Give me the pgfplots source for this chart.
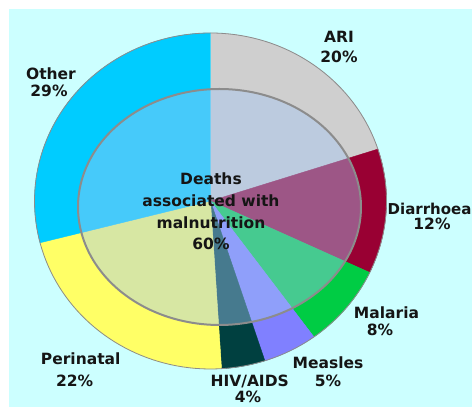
\documentclass[border=0pt]{standalone}
\usepackage{pgfplots}
\pgfplotsset{compat=1.18}
\usepackage{pgfplotstable}
\usepackage{fontspec}
\setmainfont{DejaVu Sans}
\definecolor{bgc}{HTML}{CCFFFF}
\definecolor{cARI}{HTML}{CFCFCF}
\definecolor{cDia}{HTML}{990033}
\definecolor{cMal}{HTML}{00CC44}
\definecolor{cMea}{HTML}{8080FF}
\definecolor{cHIV}{HTML}{004040}
\definecolor{cPer}{HTML}{FFFF66}
\definecolor{cOth}{HTML}{00CCFF}
\definecolor{cOver}{RGB}{164,200,245}
\definecolor{cRing}{HTML}{8C8C8C}
\definecolor{txt}{HTML}{151515}

\pgfplotstableread{
cause share
ARI 20
Diarrhoea 12
Malaria 8
Measles 5
HIV/AIDS 4
Perinatal 22
Other 29
}\causes

\newcommand\getshare[2]{\pgfplotstablegetelem{#1}{share}\of\causes\xdef#2{\pgfplotsretval}}

\begin{document}%
\begin{tikzpicture}[x=1pt,y=1pt]
\getshare{0}\sA\getshare{1}\sB\getshare{2}\sC\getshare{3}\sD\getshare{4}\sE\getshare{5}\sF\getshare{6}\sG
\pgfmathsetmacro\aA{0}
\pgfmathsetmacro\aB{\aA+3.6*\sA}
\pgfmathsetmacro\aC{\aB+3.6*\sB}
\pgfmathsetmacro\aD{\aC+3.6*\sC}
\pgfmathsetmacro\aE{\aD+3.6*\sD}
\pgfmathsetmacro\aF{\aE+3.6*\sE}
\pgfmathsetmacro\aG{\aF+3.6*\sF}
\pgfmathsetmacro\aH{\aG+3.6*\sG}
\def\cx{210.5}\def\cy{206}\def\rx{176}\def\ry{168}
\def\icx{219.5}\def\icy{200}\def\irx{141.5}\def\iry{118}
\useasboundingbox (0,0) rectangle (472,407);
\clip (0,0) rectangle (472,407);
\fill[white] (0,0) rectangle (472,407);
\fill[bgc] (9,0) rectangle (472,398);
\begin{axis}[at={(0,0)}, anchor=south west, width=472pt, height=407pt,
  scale only axis, xmin=0, xmax=472, ymin=0, ymax=407, hide axis, clip=false]
\pgfplotsset{slice/.style={line width=0.4pt, samples=60, variable=\t}}
\addplot[slice, draw=cARI, fill=cARI, domain=\aA:\aB] ({\cx+\rx*sin(\t)},{\cy+\ry*cos(\t)}) -- (\cx,\cy) -- cycle;
\addplot[slice, draw=cDia, fill=cDia, domain=\aB:\aC] ({\cx+\rx*sin(\t)},{\cy+\ry*cos(\t)}) -- (\cx,\cy) -- cycle;
\addplot[slice, draw=cMal, fill=cMal, domain=\aC:\aD] ({\cx+\rx*sin(\t)},{\cy+\ry*cos(\t)}) -- (\cx,\cy) -- cycle;
\addplot[slice, draw=cMea, fill=cMea, domain=\aD:\aE] ({\cx+\rx*sin(\t)},{\cy+\ry*cos(\t)}) -- (\cx,\cy) -- cycle;
\addplot[slice, draw=cHIV, fill=cHIV, domain=\aE:\aF] ({\cx+\rx*sin(\t)},{\cy+\ry*cos(\t)}) -- (\cx,\cy) -- cycle;
\addplot[slice, draw=cPer, fill=cPer, domain=\aF:\aG] ({\cx+\rx*sin(\t)},{\cy+\ry*cos(\t)}) -- (\cx,\cy) -- cycle;
\addplot[slice, draw=cOth, fill=cOth, domain=\aG:\aH] ({\cx+\rx*sin(\t)},{\cy+\ry*cos(\t)}) -- (\cx,\cy) -- cycle;
% outer outline
\addplot[draw=cRing, line width=0.8pt, domain=0:360, samples=180, variable=\t] ({\cx+\rx*sin(\t)},{\cy+\ry*cos(\t)}) -- cycle;
% malnutrition overlay
\addplot[draw=cRing, line width=2pt, fill=cOver, fill opacity=0.43, domain=0:360, samples=180, variable=\t] ({\icx+\irx*sin(\t)},{\icy+\iry*cos(\t)}) -- cycle;
\end{axis}
\begin{scope}[every node/.style={font=\fontsize{15.5}{18}\selectfont\bfseries, text=txt, anchor=base, inner sep=0pt}]
\node at (339,407-42.7) {ARI};
\node at (339,407-62.5) {20\%};
\node at (51,407-80) {Other};
\node at (49,407-96.7) {29\%};
\node[anchor=base west, font=\fontsize{15}{18}\selectfont\bfseries] at (387.5,407-215) {Diarrhoea};
\node at (432,407-230) {12\%};
\node at (386.5,407-318.3) {Malaria};
\node at (380,407-336) {8\%};
\node at (328,407-368.3) {Measles};
\node at (328,407-386.7) {5\%};
\node at (249.7,407-386.7) {HIV/AIDS};
\node at (248,407-403) {4\%};
\node at (80.7,407-365) {Perinatal};
\node at (74.7,407-386.7) {22\%};
\node at (211,407-185) {Deaths};
\node at (211,407-206.7) {associated with};
\node at (211,407-229) {malnutrition};
\node at (211,407-250) {60\%};
\end{scope}
\end{tikzpicture}%
\end{document}
